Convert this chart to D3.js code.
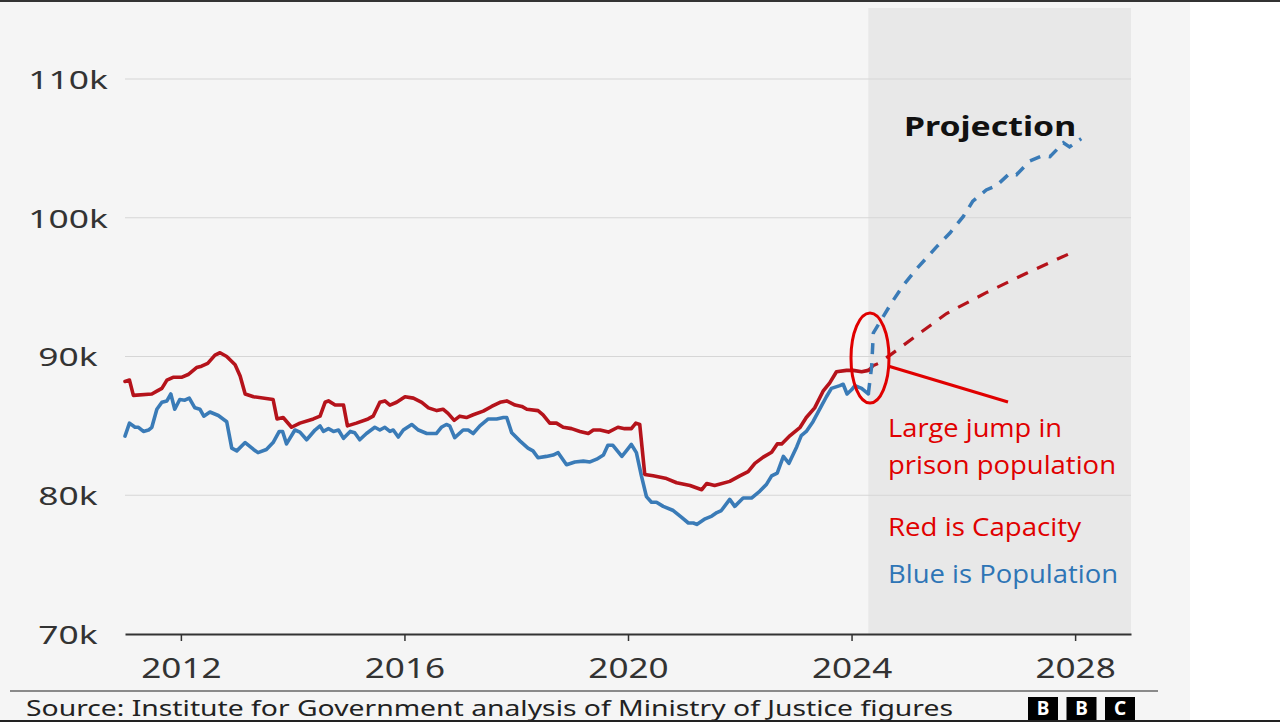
<!DOCTYPE html>
<html>
<head>
<meta charset="utf-8">
<script src="https://cdn.jsdelivr.net/npm/d3@7"></script>
<style>
  html, body { margin: 0; padding: 0; background: #ffffff; }
  svg { display: block; }
</style>
</head>
<body>
<svg id="chart" width="1280" height="722"></svg>
<script>
// ---------------- DATA ----------------
const xTicks = [2012, 2016, 2020, 2024, 2028];
const yTicks = [70, 80, 90, 100, 110];
const gridValues = [80, 90, 100, 110];
const projectionStart = 2024.3;

// Prison capacity (thousands) – observed
const capacity = [
  [2011.00,88.2],[2011.08,88.3],[2011.15,87.2],[2011.48,87.3],[2011.57,87.5],[2011.66,87.7],
  [2011.75,88.3],[2011.86,88.5],[2012.01,88.5],[2012.13,88.7],[2012.28,89.2],[2012.37,89.3],
  [2012.48,89.5],[2012.61,90.1],[2012.70,90.27],[2012.82,90.0],[2012.97,89.4],[2013.06,88.6],
  [2013.15,87.3],[2013.30,87.1],[2013.65,86.9],[2013.72,85.5],[2013.83,85.6],[2013.98,84.9],
  [2014.13,85.2],[2014.37,85.5],[2014.49,85.7],[2014.58,86.7],[2014.64,86.8],[2014.76,86.5],
  [2014.91,86.5],[2014.98,85.0],[2015.14,85.2],[2015.35,85.5],[2015.44,85.7],[2015.56,86.7],
  [2015.65,86.8],[2015.74,86.5],[2015.86,86.7],[2016.01,87.1],[2016.16,87.0],[2016.31,86.7],
  [2016.43,86.3],[2016.58,86.1],[2016.69,86.2],[2016.78,85.9],[2016.89,85.4],[2016.99,85.7],
  [2017.11,85.6],[2017.23,85.8],[2017.41,86.06],[2017.56,86.4],[2017.71,86.7],[2017.83,86.8],
  [2017.98,86.5],[2018.10,86.4],[2018.19,86.2],[2018.39,86.1],[2018.48,85.8],[2018.60,85.2],
  [2018.72,85.2],[2018.84,84.9],[2018.99,84.8],[2019.14,84.6],[2019.29,84.45],[2019.38,84.7],
  [2019.50,84.7],[2019.65,84.55],[2019.82,84.9],[2019.94,84.8],[2020.06,84.8],[2020.14,85.2],
  [2020.21,85.1],[2020.30,81.5],[2020.45,81.4],[2020.69,81.2],[2020.87,80.9],[2021.11,80.7],
  [2021.32,80.4],[2021.41,80.85],[2021.55,80.7],[2021.82,81.0],[2022.00,81.4],[2022.15,81.7],
  [2022.27,82.3],[2022.42,82.75],[2022.57,83.1],[2022.67,83.7],[2022.75,83.7],[2022.90,84.3],
  [2023.08,84.9],[2023.19,85.6],[2023.34,86.3],[2023.49,87.5],[2023.61,88.1],[2023.73,88.9],
  [2023.91,89.0],[2024.03,89.0],[2024.18,88.9],[2024.30,89.0]
];

// Prison capacity (thousands) – projection
const capacityProjection = [
  [2024.30,89.0],[2024.39,89.35],[2024.48,89.5],[2024.69,90.1],[2025.16,91.5],[2025.70,93.1],
  [2026.41,94.6],[2027.13,96.0],[2028.00,97.6]
];

// Prison population (thousands) – observed
const population = [
  [2011.00,84.26],[2011.08,85.2],[2011.18,84.9],[2011.24,84.9],[2011.33,84.6],[2011.42,84.7],
  [2011.48,84.9],[2011.57,86.2],[2011.66,86.7],[2011.75,86.8],[2011.82,87.3],[2011.89,86.2],
  [2011.98,86.9],[2012.07,86.85],[2012.15,87.0],[2012.25,86.3],[2012.34,86.2],[2012.41,85.7],
  [2012.52,86.0],[2012.67,85.75],[2012.82,85.3],[2012.91,83.4],[2013.00,83.2],[2013.15,83.8],
  [2013.30,83.3],[2013.38,83.07],[2013.53,83.3],[2013.65,83.8],[2013.76,84.6],[2013.82,84.6],
  [2013.89,83.7],[2014.04,84.7],[2014.13,84.55],[2014.25,84.0],[2014.40,84.7],[2014.49,85.0],
  [2014.55,84.6],[2014.64,84.8],[2014.73,84.6],[2014.82,84.7],[2014.91,84.1],[2015.03,84.6],
  [2015.11,84.5],[2015.20,84.0],[2015.32,84.45],[2015.47,84.9],[2015.56,84.7],[2015.65,84.9],
  [2015.74,84.6],[2015.80,84.7],[2015.89,84.2],[2015.98,84.7],[2016.13,85.1],[2016.25,84.7],
  [2016.40,84.45],[2016.57,84.45],[2016.66,84.9],[2016.75,85.1],[2016.81,85.0],[2016.90,84.15],
  [2017.05,84.7],[2017.14,84.7],[2017.23,84.45],[2017.35,85.0],[2017.50,85.5],[2017.65,85.5],
  [2017.77,85.6],[2017.83,85.6],[2017.92,84.5],[2018.07,83.9],[2018.21,83.4],[2018.30,83.2],
  [2018.39,82.7],[2018.54,82.8],[2018.66,82.9],[2018.75,83.07],[2018.90,82.2],[2019.05,82.4],
  [2019.20,82.46],[2019.32,82.4],[2019.44,82.6],[2019.56,82.9],[2019.64,83.6],[2019.73,83.6],
  [2019.89,82.8],[2019.97,83.2],[2020.06,83.66],[2020.15,83.07],[2020.24,81.4],[2020.33,79.9],
  [2020.42,79.5],[2020.51,79.5],[2020.63,79.2],[2020.81,78.9],[2020.96,78.4],[2021.08,78.0],
  [2021.17,78.0],[2021.23,77.9],[2021.38,78.3],[2021.50,78.5],[2021.59,78.75],[2021.67,78.9],
  [2021.82,79.7],[2021.91,79.2],[2022.06,79.8],[2022.21,79.8],[2022.36,80.3],[2022.48,80.8],
  [2022.57,81.4],[2022.67,81.6],[2022.78,82.8],[2022.88,82.3],[2023.02,83.5],[2023.10,84.3],
  [2023.19,84.6],[2023.31,85.3],[2023.43,86.2],[2023.55,87.1],[2023.64,87.7],[2023.79,87.9],
  [2023.85,88.0],[2023.92,87.3],[2024.00,87.6],[2024.06,87.9],[2024.18,87.7],[2024.30,87.3]
];

// Prison population (thousands) – projection
const populationProjection = [
  [2024.30,87.3],[2024.36,89.3],[2024.39,91.7],[2024.51,92.5],[2024.72,93.9],[2024.92,95.1],
  [2025.16,96.3],[2025.52,97.9],[2025.76,98.9],[2026.00,100.1],[2026.17,101.2],[2026.41,102.0],
  [2026.59,102.3],[2026.83,103.2],[2026.95,103.1],[2027.19,104.1],[2027.43,104.5],[2027.55,104.4],
  [2027.79,105.4],[2027.90,105.1],[2028.11,105.7]
];

const projectionLabel = "Projection";
const sourceText = "Source: Institute for Government analysis of Ministry of Justice figures";
const annotationLines = ["Large jump in", "prison population"];
const legendRed = "Red is Capacity";
const legendBlue = "Blue is Population";
const logoLetters = ["B", "B", "C"];

// ---------------- DRAW ----------------
const svg = d3.select("#chart");
const W = 1280, H = 722;
const RED = "#b5131b", BLUE = "#3a7bb7";
const FONT = "'Noto Sans', 'DejaVu Sans', sans-serif";

const x = d3.scaleLinear().domain([2011, 2029]).range([125, 1131]);
const y = d3.scaleLinear().domain([70, 110]).range([634, 79]);

// stretch helper: makes glyphs wider like the reference
function stretch(sel, factor) {
  sel.each(function() {
    const w = this.getComputedTextLength();
    d3.select(this).attr("textLength", w * factor).attr("lengthAdjust", "spacingAndGlyphs");
  });
}

// backgrounds
svg.append("rect").attr("x", 0).attr("y", 0).attr("width", W).attr("height", H).attr("fill", "#ffffff");
svg.append("rect").attr("x", 0).attr("y", 0).attr("width", 1190).attr("height", H).attr("fill", "#f5f5f5");
svg.append("rect").attr("x", 0).attr("y", 0).attr("width", W).attr("height", 2).attr("fill", "#333333");

// projection shading
svg.append("rect")
  .attr("x", x(projectionStart)).attr("y", 8)
  .attr("width", x(2029) - x(projectionStart)).attr("height", y(70) - 8)
  .attr("fill", "#e8e8e8");

// gridlines
svg.append("g").selectAll("line").data(gridValues).join("line")
  .attr("x1", x(2011)).attr("x2", x(2029))
  .attr("y1", d => y(d)).attr("y2", d => y(d))
  .attr("stroke", "#d6d6d6").attr("stroke-width", 1.2);

// y axis labels
const yAxis = svg.append("g").attr("transform", `translate(${x(2011)},0)`)
  .call(d3.axisLeft(y).tickValues(yTicks).tickFormat(d => d + "k").tickSize(0));
yAxis.select(".domain").remove();
yAxis.selectAll("text")
  .attr("x", 68 - x(2011)).attr("text-anchor", "middle").attr("dy", "0.36em")
  .style("font-family", FONT).style("font-size", "26px").attr("fill", "#333");
stretch(yAxis.selectAll("text"), 1.36);

// x axis
const xAxis = svg.append("g").attr("transform", `translate(0,${y(70)})`)
  .call(d3.axisBottom(x).tickValues(xTicks).tickFormat(d3.format("d")).tickSize(7).tickSizeOuter(0));
xAxis.select(".domain").attr("stroke", "#333").attr("stroke-width", 2.2);
xAxis.selectAll(".tick line").attr("stroke", "#333").attr("stroke-width", 1.5);
xAxis.selectAll("text")
  .attr("y", 44).attr("dy", 0)
  .style("font-family", FONT).style("font-size", "27px").attr("fill", "#333");
stretch(xAxis.selectAll("text"), 1.3);

// lines
const line = d3.line().x(d => x(d[0])).y(d => y(d[1])).curve(d3.curveLinear);

svg.append("path").datum(capacityProjection).attr("d", line)
  .attr("fill", "none").attr("stroke", RED).attr("stroke-width", 3.2)
  .attr("stroke-dasharray", "12,10");
svg.append("path").datum(populationProjection).attr("d", line)
  .attr("fill", "none").attr("stroke", BLUE).attr("stroke-width", 3.5)
  .attr("stroke-dasharray", "11,9");
svg.append("path").datum(population).attr("d", line)
  .attr("fill", "none").attr("stroke", BLUE).attr("stroke-width", 3.6)
  .attr("stroke-linejoin", "round").attr("stroke-linecap", "round");
svg.append("path").datum(capacity).attr("d", line)
  .attr("fill", "none").attr("stroke", RED).attr("stroke-width", 3.6)
  .attr("stroke-linejoin", "round").attr("stroke-linecap", "round");

// projection label
const pl = svg.append("text").attr("x", 904).attr("y", 136)
  .style("font-family", FONT).style("font-size", "26px").style("font-weight", "bold")
  .attr("fill", "#111").text(projectionLabel);
stretch(pl, 1.3);

// annotation
const ANN_RED = "#e00000", ANN_BLUE = "#2e75b6";
svg.append("ellipse").attr("cx", 870).attr("cy", 358).attr("rx", 19).attr("ry", 45)
  .attr("fill", "none").attr("stroke", ANN_RED).attr("stroke-width", 3);
svg.append("line").attr("x1", 888).attr("y1", 366).attr("x2", 1008).attr("y2", 402)
  .attr("stroke", ANN_RED).attr("stroke-width", 3);

const annFont = "'Open Sans', 'Noto Sans', sans-serif";
const annRows = [
  {t: annotationLines[0], y: 437, c: ANN_RED, w: 174},
  {t: annotationLines[1], y: 474, c: ANN_RED, w: 228},
  {t: legendRed, y: 536, c: ANN_RED, w: 193},
  {t: legendBlue, y: 583, c: ANN_BLUE, w: 230}
];
svg.append("g").selectAll("text").data(annRows).join("text")
  .attr("x", 888).attr("y", d => d.y)
  .attr("fill", d => d.c)
  .style("font-family", annFont).style("font-size", "26px")
  .attr("textLength", d => d.w).attr("lengthAdjust", "spacingAndGlyphs")
  .text(d => d.t);

// footer
svg.append("line").attr("x1", 10).attr("x2", 1158).attr("y1", 691).attr("y2", 691)
  .attr("stroke", "#666").attr("stroke-width", 1.5);
svg.append("text").attr("x", 26).attr("y", 716)
  .style("font-family", FONT).style("font-size", "22px").attr("fill", "#222")
  .attr("textLength", 927).attr("lengthAdjust", "spacingAndGlyphs")
  .text(sourceText);

const logo = svg.append("g");
logoLetters.forEach((ch, i) => {
  const lx = 1028 + i * 38.5;
  logo.append("rect").attr("x", lx).attr("y", 697).attr("width", 30).attr("height", 23).attr("fill", "#000");
  logo.append("text").attr("x", lx + 15).attr("y", 715).attr("text-anchor", "middle")
    .style("font-family", FONT).style("font-size", "19px").style("font-weight", "bold")
    .attr("fill", "#fff").text(ch);
});

svg.append("rect").attr("x", 0).attr("y", 720).attr("width", W).attr("height", 2).attr("fill", "#222");
</script>
</body>
</html>
